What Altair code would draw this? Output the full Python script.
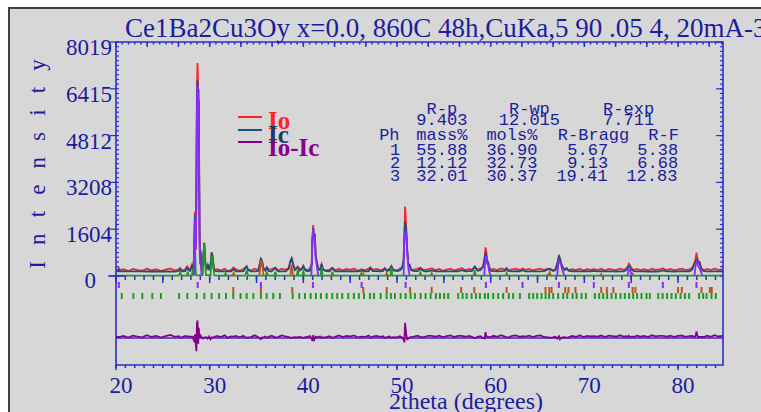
import re
import altair as alt
import pandas as pd

# ------------------------------------------------------------------ texts
TITLE = "Ce1Ba2Cu3Oy x=0.0, 860C 48h,CuKa,5 90 .05 4, 20mA-30kV"
X_TITLE = "2theta (degrees)"
Y_TITLE = "\u2002\u2009".join("Intensity")
Y_LABELS = [0, 1604, 3208, 4812, 6415, 8019]
X_LABELS = [20, 30, 40, 50, 60, 70, 80]
LEGEND = ["Io", "Ic", "Io-Ic"]
STATS = [
    "     R-p    R-wp    R-exp",
    "    9.403  12.015   7.711",
    " Ph mass% mols% R-Bragg R-F",
    "  1 55.88 36.90  5.67  5.38",
    "  2 12.12 32.73  9.13  6.68",
    "  3 32.01 30.37 19.41 12.83",
]

# ------------------------------------------------- observed / calculated
tth = [
    20.0, 20.2, 20.3, 20.4, 20.8, 21.3, 21.8, 22.3, 22.8, 23.3, 23.8, 24.3, 24.8, 25.3, 25.8, 26.3, 26.7, 26.85, 27.0, 27.4, 27.6, 27.75, 27.9, 28.1, 28.2, 28.3,
    28.35, 28.42, 28.47, 28.52, 28.58, 28.64, 28.70, 28.74, 28.78, 28.83, 28.87, 28.92, 28.97, 29.03, 29.08,
    29.15, 29.3, 29.42, 29.55, 29.7, 29.8, 29.95, 30.1, 30.22, 30.3, 30.45, 30.6,
    30.8, 31.2, 31.6, 31.9, 32.3, 32.55, 32.8, 33.2, 33.6, 33.85, 33.95, 34.1, 34.4, 34.8, 35.2,
    35.35, 35.47, 35.6, 35.75, 35.95, 36.1, 36.3,
    36.6, 37.0, 37.3, 37.7, 38.1, 38.45, 38.6, 38.75, 38.9, 39.1, 39.4, 39.6, 39.85, 40.0, 40.15, 40.4, 40.7, 40.9,
    40.97, 41.05, 41.13, 41.22, 41.32, 41.45, 41.6, 41.8, 41.95, 42.1, 42.4,
    42.8, 43.1, 43.4, 43.8, 44.2, 44.6, 45.0, 45.4, 45.8, 46.2, 46.6, 47.0, 47.15, 47.4, 47.8, 48.2, 48.5, 48.7, 48.9, 49.2, 49.4, 49.6, 50.0, 50.3, 50.55, 50.7,
    50.78, 50.86, 50.93, 51.0, 51.08, 51.2, 51.35, 51.5,
    51.8, 52.2, 52.5, 52.9, 53.3, 53.7, 54.1, 54.5, 54.9, 55.3, 55.7, 56.1, 56.5, 56.9, 57.3, 57.7, 58.0, 58.3, 58.6, 58.9, 59.2,
    59.35, 59.45, 59.52, 59.6, 59.72, 59.85, 60.0,
    60.3, 60.7, 61.1, 61.5, 61.7, 61.9, 62.3, 62.7, 63.1, 63.4, 63.7, 64.1, 64.5, 64.9, 65.3, 65.7, 66.0, 66.3, 66.6, 66.9, 67.1,
    67.22, 67.3, 67.4, 67.55, 67.7, 67.9, 68.1, 68.3,
    68.7, 69.1, 69.5, 69.9, 70.3, 70.7, 71.0, 71.4, 71.8, 72.2, 72.6, 73.0, 73.4, 73.8, 74.2, 74.5, 74.65,
    74.75, 74.85, 74.95, 75.1, 75.3,
    75.6, 76.0, 76.4, 76.8, 77.2, 77.6, 78.0, 78.4, 78.8, 79.2, 79.6, 80.0, 80.4, 80.8, 81.2, 81.5, 81.75, 81.88,
    81.97, 82.05, 82.15, 82.3, 82.45, 82.6, 82.8,
    83.1, 83.5, 83.9, 84.3, 84.8,
]
io_obs = [
    210, 190, 270, 200, 230, 170, 240, 200, 180, 250, 190, 230, 170, 220, 260, 190, 230, 270, 180, 240, 330, 260, 200, 380, 300, 420,
    900, 2200, 1800, 900, 2600, 6500, 7300, 6900, 4800, 6400, 4200, 1500, 600, 900, 500,
    250, 500, 1150, 420, 260, 380, 250, 380, 820, 700, 260, 220,
    230, 190, 250, 170, 210, 290, 230, 180, 240, 300, 330, 220, 190, 250, 200,
    400, 580, 500, 260, 230, 300, 210,
    240, 290, 190, 250, 210, 280, 500, 600, 420, 230, 320, 220, 260, 340, 240, 200, 250, 400,
    1200, 1750, 1250, 1450, 700, 480, 260, 250, 410, 240, 190,
    220, 280, 200, 250, 190, 240, 210, 260, 180, 230, 200, 250, 290, 210, 240, 200, 230, 260, 200, 250, 340, 220, 190, 250, 300, 500,
    1200, 2380, 2000, 1550, 900, 400, 380, 230,
    210, 250, 280, 190, 230, 260, 200, 240, 180, 220, 250, 190, 230, 270, 200, 240, 210, 320, 220, 260, 320,
    600, 980, 850, 560, 490, 300, 210,
    240, 200, 260, 220, 270, 190, 230, 250, 200, 260, 210, 240, 190, 230, 250, 200, 240, 250, 200, 230, 400,
    600, 720, 560, 410, 300, 230, 270, 200,
    230, 200, 250, 190, 230, 210, 240, 200, 250, 190, 240, 220, 200, 250, 210, 260, 330,
    420, 380, 300, 250, 200,
    240, 200, 230, 190, 250, 210, 230, 260, 200, 240, 190, 230, 250, 200, 230, 280, 450, 600,
    800, 650, 480, 490, 300, 230, 200,
    240, 200, 250, 210, 230,
]
ic_calc = [
    160, 160, 230, 160, 158, 157, 157, 156, 156, 155, 155, 155, 154, 154, 154, 153, 170, 250, 160, 170, 280, 200, 170, 330, 260, 500,
    1000, 2100, 1700, 1100, 3050, 6000, 6700, 6600, 5000, 6050, 4000, 1400, 550, 820, 450,
    230, 520, 1130, 400, 240, 400, 200, 420, 800, 680, 230, 170,
    160, 158, 160, 157, 157, 240, 160, 157, 165, 290, 320, 200, 160, 158, 170,
    420, 620, 480, 240, 180, 290, 170,
    160, 270, 160, 160, 158, 250, 480, 600, 400, 200, 300, 180, 240, 340, 220, 165, 180, 420,
    1300, 1650, 1350, 1450, 650, 450, 230, 200, 400, 220, 165,
    160, 270, 160, 162, 158, 165, 158, 170, 158, 185, 160, 170, 280, 165, 165, 160, 170, 260, 170, 200, 330, 190, 165, 190, 280, 550,
    1350, 1860, 1700, 1450, 950, 430, 360, 200,
    165, 170, 250, 160, 158, 190, 157, 160, 156, 157, 160, 156, 158, 200, 157, 165, 170, 320, 180, 200, 320,
    620, 780, 760, 520, 450, 270, 180,
    165, 160, 165, 175, 250, 165, 160, 162, 160, 200, 160, 158, 156, 158, 160, 170, 210, 240, 180, 190, 420,
    560, 660, 600, 400, 280, 200, 260, 180,
    160, 165, 158, 156, 157, 158, 175, 156, 165, 156, 160, 158, 155, 158, 160, 200, 300,
    340, 330, 260, 200, 165,
    160, 156, 156, 155, 158, 155, 160, 190, 156, 158, 155, 160, 165, 158, 162, 210, 420, 520,
    570, 560, 450, 450, 260, 190, 165,
    158, 160, 156, 158, 157,
]

# --------------------------------------------------- phase contributions
phase1_peaks = [
    [(28.35, 0), (28.42, 1950), (28.47, 1600), (28.52, 900), (28.58, 2900), (28.64, 5800), (28.70, 6550), (28.74, 6500),
     (28.78, 4900), (28.83, 5950), (28.87, 3900), (28.92, 1300), (28.97, 400), (29.03, 500), (29.08, 250), (29.15, 0)],
    [(40.85, 0), (40.97, 1200), (41.05, 1630), (41.13, 1300), (41.22, 1400), (41.32, 600), (41.45, 300), (41.6, 0)],
    [(50.7, 0), (50.78, 1200), (50.86, 1550), (50.93, 1500), (51.0, 1400), (51.08, 850), (51.2, 300), (51.35, 0)],
    [(59.3, 0), (59.45, 660), (59.52, 640), (59.6, 450), (59.72, 380), (59.85, 150), (60.0, 0)],
    [(67.1, 0), (67.22, 450), (67.3, 525), (67.4, 480), (67.55, 330), (67.7, 150), (67.9, 0)],
    [(74.6, 0), (74.75, 230), (74.85, 220), (74.95, 150), (75.1, 0)],
    [(81.75, 0), (81.88, 380), (81.97, 490), (82.05, 450), (82.15, 330), (82.3, 270), (82.45, 150), (82.6, 0)],
]
phase2_peaks = [
    [(32.4, 0), (32.55, 100), (32.7, 0)],
    [(35.3, 0), (35.47, 550), (35.6, 400), (35.75, 0)],
    [(38.6, 0), (38.75, 380), (38.9, 0)],
    [(46.3, 0), (46.4, 80), (46.5, 0)],
    [(48.8, 0), (48.9, 100), (49.0, 0)],
    [(53.6, 0), (53.7, 60), (53.8, 0)],
    [(66.0, 0), (66.25, 80), (66.5, 0)],
    [(71.7, 0), (71.8, 60), (71.9, 0)],
    [(75.05, 0), (75.15, 80), (75.3, 0)],
]
phase3_x = [20.0, 26.7, 26.85, 27.0, 27.55, 27.65, 27.75, 28.1, 28.2, 28.3, 28.38, 28.45, 28.52, 28.6, 29.25, 29.35, 29.42,
            29.5, 29.6, 30.1, 30.2, 30.27, 30.35, 30.5, 31.6, 31.7, 31.8, 33.8, 33.95, 34.1, 36.0, 36.1, 36.2, 36.9, 37.0,
            37.1, 39.3, 39.4, 39.5, 39.9, 40.0, 40.1, 41.85, 41.95, 42.05, 43.0, 43.1, 43.2, 46.1, 46.2, 46.3, 49.3, 49.4,
            49.5, 52.4, 52.5, 52.6, 53.6, 53.7, 53.8, 58.2, 58.3, 58.4, 61.6, 61.7, 61.8, 66.2, 66.3, 66.4, 84.8]
phase3_y = [10, 10, 120, 10, 10, 150, 10, 10, 250, 40, 1000, 900, 100, 20, 30, 700, 1100,
            500, 30, 30, 600, 700, 400, 20, 10, 100, 10, 10, 200, 10, 10, 150, 10, 10, 150,
            10, 10, 200, 10, 10, 200, 10, 10, 300, 10, 10, 150, 10, 10, 100, 10, 10, 300,
            10, 10, 120, 10, 10, 100, 10, 10, 200, 10, 10, 100, 10, 10, 120, 10, 10]

# ------------------------------------------------------ reflection markers
refl_phase1 = [20.3, 28.72, 35.47, 41.02, 46.22, 50.92, 59.49, 63.40, 67.28, 71.01, 74.75, 78.38, 81.97]
refl_phase2 = [32.52, 35.47, 38.82, 46.4, 48.9, 51.4, 53.7, 56.85, 58.25, 61.7, 65.85, 66.25, 66.5, 67.95, 68.3,
               69.05, 71.8, 72.4, 73.1, 75.15, 75.45, 80.0, 80.4, 82.5, 83.4, 83.6]
refl_phase3 = [20.61, 21.85, 22.81, 23.88, 24.80, 26.72, 27.61, 28.61, 29.43, 30.21, 30.99, 31.74, 32.52, 33.30,
               33.95, 34.66, 35.47, 36.08, 36.79, 37.50, 38.86, 39.56, 40.17, 40.78, 41.34, 41.88, 42.49, 43.09,
               43.62, 44.15, 44.79, 45.40, 45.93, 46.47, 47.11, 47.53, 48.25, 48.89, 49.35, 49.78, 50.38, 50.92,
               51.45, 51.91, 52.52, 53.05, 53.59, 54.15, 54.58, 55.04, 55.46, 56.53, 57.0, 57.43, 57.96, 58.42,
               58.85, 59.38, 59.73, 60.27, 60.80, 61.33, 61.94, 62.40, 63.12, 64.11, 64.54, 64.96, 65.43, 65.86,
               66.24, 66.67, 67.2, 67.74, 68.17, 68.74, 69.17, 69.70, 70.16, 71.12, 71.58, 72.01, 72.43, 72.90,
               73.36, 73.86, 74.32, 74.78, 75.21, 75.63, 76.10, 76.64, 76.99, 77.88, 78.35, 78.84, 79.31, 79.76,
               80.27, 80.73, 81.18, 82.25, 82.68, 83.04, 83.57, 84.03]

# --------------------------------------------------------- axis tick values
X_MINOR = list(range(20, 85))
X_FIVE = list(range(20, 85, 5))
X_TOP = [20 + k * 10 / 3 for k in range(20)]
X_TOP_MINOR = [20 + k * 2 / 3 for k in range(98)]
Y_MINOR = [k * 8019 / 50 for k in range(51)]

# ----------------------------------------------------------------- styles
W, H = 607, 323
SERIF = "Liberation Serif"
MONO = "Liberation Mono"
TXT = "#1c1c9e"
AXC = "#2e2ecc"
RED = "#ff2424"
TEAL = "#1f4f7e"
VIOLET = "#8a2cf5"
GREEN = "#229a22"
BROWN = "#b8561c"
PURPLE = "#880088"
DIFF_ZERO = -2125

xs = alt.Scale(domain=[20, 84.8], nice=False, zero=False)
ys = alt.Scale(domain=[-3050, 8019], nice=False, zero=False)

prof = pd.DataFrame({"tth": tth, "io": io_obs, "ic": ic_calc})
prof["diff"] = prof["io"] - prof["ic"] + DIFF_ZERO


def seg_frame(peaks):
    rows = []
    for i, pk in enumerate(peaks):
        for x, y in pk:
            rows.append({"t": x, "v": y, "s": i})
    return pd.DataFrame(rows)


def X(f):
    return alt.X(f, scale=xs, axis=None)


def Y(f):
    return alt.Y(f, scale=ys, axis=None)


one = pd.DataFrame({"a": [0]})

layers = []
# grey panel with dark border
layers.append(alt.Chart(one).mark_rect(fill="#d7d7d7", stroke="#404040", strokeWidth=2).encode(
    x=alt.value(-107), x2=alt.value(700), y=alt.value(-34), y2=alt.value(420)))

# profiles
layers.append(alt.Chart(prof).mark_line(color=RED, strokeWidth=1.8).encode(x=X("tth:Q"), y=Y("io:Q")))
layers.append(alt.Chart(prof).mark_line(color=TEAL, strokeWidth=1.8).encode(x=X("tth:Q"), y=Y("ic:Q")))
layers.append(alt.Chart(pd.DataFrame({"t": phase3_x, "v": phase3_y})).mark_line(color=GREEN, strokeWidth=1.8).encode(
    x=X("t:Q"), y=Y("v:Q")))
layers.append(alt.Chart(seg_frame(phase2_peaks)).mark_line(color=BROWN, strokeWidth=1.8).encode(
    x=X("t:Q"), y=Y("v:Q"), detail="s:N"))
layers.append(alt.Chart(seg_frame(phase1_peaks)).mark_line(color=VIOLET, strokeWidth=1.8).encode(
    x=X("t:Q"), y=Y("v:Q"), detail="s:N"))

# difference curve and its zero line
layers.append(alt.Chart(pd.DataFrame({"a": [20], "b": [84.8], "y": [DIFF_ZERO]})).mark_rule(
    color=AXC, strokeWidth=1.5).encode(x=X("a:Q"), x2="b:Q", y=Y("y:Q")))
layers.append(alt.Chart(prof).mark_line(color=PURPLE, strokeWidth=1.8).encode(x=X("tth:Q"), y=Y("diff:Q")))


def xticks(vals, color, y0, y1, w=1.5):
    return alt.Chart(pd.DataFrame({"t": vals})).mark_rule(color=color, strokeWidth=w).encode(
        x=X("t:Q"), y=alt.value(y0), y2=alt.value(y1))


def yticks(vals, color, x0, x1, w=1.2):
    return alt.Chart(pd.DataFrame({"v": vals})).mark_rule(color=color, strokeWidth=w).encode(
        y=Y("v:Q"), x=alt.value(x0), x2=alt.value(x1))


# reflection markers
layers.append(xticks(refl_phase1, VIOLET, 240, 246, 2))
layers.append(xticks(refl_phase2, BROWN, 245, 251, 2))
layers.append(xticks(refl_phase3, GREEN, 251, 257, 2))
# ticks on the zero line
layers.append(xticks(X_MINOR, AXC, 234, 238))
layers.append(xticks(X_FIVE, AXC, 234, 241))
# bottom / top axis ticks
layers.append(xticks(X_MINOR, AXC, 323, 326))
layers.append(xticks(X_LABELS, AXC, 323, 328))
layers.append(xticks(X_TOP_MINOR, AXC, 0, 2.5))
layers.append(xticks(X_TOP, AXC, 0, 5))
# left / right axis ticks
layers.append(yticks(Y_MINOR, AXC, 0, 3))
layers.append(yticks(Y_LABELS, AXC, -6, 0))
layers.append(yticks([0], AXC, -8, 9, 1.5))
layers.append(yticks(Y_MINOR, AXC, W - 3, W))
layers.append(yticks(Y_LABELS[1:], AXC, W - 7, W))

# frame
layers.append(alt.Chart(one).mark_rect(fillOpacity=0, stroke=AXC, strokeWidth=1.6).encode(
    x=alt.value(0), x2=alt.value(W), y=alt.value(0), y2=alt.value(H)))

# tick labels
xl = pd.DataFrame({"t": X_LABELS, "s": [str(v) for v in X_LABELS]})
layers.append(alt.Chart(xl).mark_text(font=SERIF, fontSize=23, color=TXT, baseline="top", dx=5).encode(
    x=X("t:Q"), y=alt.value(H + 10), text="s:N"))
yl = pd.DataFrame({"v": Y_LABELS, "s": [str(v) for v in Y_LABELS]})
layers.append(alt.Chart(yl[yl.v != 0]).mark_text(font=SERIF, fontSize=23, color=TXT, baseline="middle",
                                                 align="right", dy=6).encode(
    y=Y("v:Q"), x=alt.value(-4), text="s:N"))
layers.append(alt.Chart(yl[yl.v == 0]).mark_text(font=SERIF, fontSize=23, color=TXT, baseline="middle",
                                                 align="right", dy=5).encode(
    y=Y("v:Q"), x=alt.value(-20), text="s:N"))

# axis titles
layers.append(alt.Chart(one).mark_text(font=SERIF, fontSize=24, color=TXT, baseline="alphabetic",
                                       align="center").encode(
    x=alt.value(350), y=alt.value(H + 44), text=alt.value(X_TITLE)))
layers.append(alt.Chart(one).mark_text(font=SERIF, fontSize=23, color=TXT, baseline="middle",
                                       align="center", angle=270).encode(
    x=alt.value(-78), y=alt.value(122), text=alt.value(Y_TITLE)))

# legend
leg = pd.DataFrame({"label": LEGEND, "col": [RED, TEAL, PURPLE], "ly": [75, 88, 100],
                    "tcol": [RED, "#1a3a66", PURPLE], "ty": [79, 93, 106]})
layers.append(alt.Chart(leg).mark_rule(strokeWidth=2).encode(
    y=alt.Y("ly:Q", scale=None, axis=None), x=alt.value(122), x2=alt.value(146),
    color=alt.Color("col:N", scale=None, legend=None)))
layers.append(alt.Chart(leg).mark_text(align="left", baseline="middle", font=SERIF, fontSize=25,
                                       fontWeight="bold").encode(
    x=alt.value(152), y=alt.Y("ty:Q", scale=None, axis=None), text="label:N",
    color=alt.Color("tcol:N", scale=None, legend=None)))

# refinement statistics (monospaced grid)
X0, CW = 366 - 116, 11.67
ROW_Y = [67, 78, 93, 108, 121, 134]
tok = []
for line, yy in zip(STATS, ROW_Y):
    for m in re.finditer(r"\S+", line):
        tok.append({"s": m.group(), "px": X0 + (m.start() + len(m.group()) / 2) * CW, "py": yy})
layers.append(alt.Chart(pd.DataFrame(tok)).mark_text(align="center", baseline="middle", font=MONO,
                                                     fontSize=17, color=TXT).encode(
    x=alt.X("px:Q", scale=None, axis=None), y=alt.Y("py:Q", scale=None, axis=None), text="s:N"))

# title
layers.append(alt.Chart(one).mark_text(align="left", baseline="alphabetic", font=SERIF, fontSize=27,
                                       color=TXT).encode(x=alt.value(9), y=alt.value(-5),
                                                         text=alt.value(TITLE)))

chart = alt.layer(*layers).properties(
    width=W, height=H, background="white",
    autosize=alt.AutoSizeParams(type="none"),
    padding={"left": 116, "top": 42, "right": 38, "bottom": 47},
).configure_view(strokeWidth=0)

chart.save("out.html", embed_options={"renderer": "svg", "actions": False})
